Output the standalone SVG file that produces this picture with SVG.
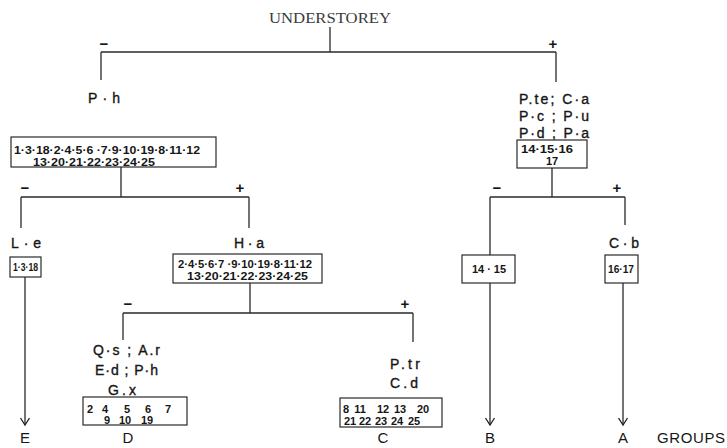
<svg xmlns="http://www.w3.org/2000/svg" width="727" height="448" viewBox="0 0 727 448">
<defs>
<marker id="arr" markerWidth="12" markerHeight="12" refX="10" refY="6" orient="auto" markerUnits="userSpaceOnUse">
<path d="M3,1.5 L10,6 L3,10.5" fill="none" stroke="#222" stroke-width="1.3"/>
</marker>
<style>
.ln{stroke:#2a2a2a;stroke-width:1.3;fill:none}
.bx{stroke:#2a2a2a;stroke-width:1.2;fill:#fff}
.lb{font-family:"Liberation Sans",Arial,sans-serif;font-size:14px;fill:#161616;stroke:#161616;stroke-width:0.35}
.nm{font-family:"Liberation Sans",Arial,sans-serif;font-size:11px;font-weight:bold;fill:#161616}
.sg{font-family:"Liberation Sans",Arial,sans-serif;font-size:15px;font-weight:bold;fill:#161616}
.gp{font-family:"Liberation Sans",Arial,sans-serif;font-size:15px;fill:#161616}
.tt{font-family:"Liberation Serif","Times New Roman",serif;font-size:14px;fill:#3a3a3a}
</style>
</defs>
<g id="connectors">
<path class="ln" d="M330,27 V52 M101,52 H556 M101,52 V80 M556,52 V82"/>
<path class="ln" d="M121,167 V197 M21,197 H249 M21,197 V228 M249,197 V228"/>
<path class="ln" d="M552,168 V197 M490,197 H625 M625,197 V225 M490,197 V255"/>
<path class="ln" d="M250,283 V313 M123,313 H413 M123,313 V340 M413,313 V342"/>
<path class="ln" d="M25,277 V425" marker-end="url(#arr)"/>
<path class="ln" d="M490,283 V425" marker-end="url(#arr)"/>
<path class="ln" d="M623,283 V425" marker-end="url(#arr)"/>
</g>
<g id="signs">
<text class="sg" x="104" y="49" text-anchor="middle">−</text>
<text class="sg" x="553" y="49" text-anchor="middle">+</text>
<text class="sg" x="25" y="193" text-anchor="middle">−</text>
<text class="sg" x="240" y="193" text-anchor="middle">+</text>
<text class="sg" x="497" y="193" text-anchor="middle">−</text>
<text class="sg" x="617" y="193" text-anchor="middle">+</text>
<text class="sg" x="128" y="309" text-anchor="middle">−</text>
<text class="sg" x="405" y="309" text-anchor="middle">+</text>
</g>
<g id="root">
<text class="tt" x="330" y="23" text-anchor="middle" textLength="122" lengthAdjust="spacingAndGlyphs">UNDERSTOREY</text>
</g>
<g id="node-ph">
<text class="lb" x="88" y="103" textLength="32" lengthAdjust="spacing">P·h</text>
</g>
<g id="node-left-box">
<rect class="bx" x="11" y="137" width="205" height="30"/>
<text class="nm" x="14" y="154" textLength="186" lengthAdjust="spacingAndGlyphs">1·3·18·2·4·5·6 ·7·9·10·19·8·11·12</text>
<text class="nm" x="33" y="166" textLength="122" lengthAdjust="spacingAndGlyphs">13·20·21·22·23·24·25</text>
</g>
<g id="node-right">
<text class="lb" x="519" y="104" textLength="70" lengthAdjust="spacing">P.te; C·a</text>
<text class="lb" x="519" y="121" textLength="70" lengthAdjust="spacing">P·c ; P·u</text>
<text class="lb" x="519" y="138" textLength="70" lengthAdjust="spacing">P·d ; P·a</text>
<rect class="bx" x="517" y="140" width="70" height="28"/>
<text class="nm" x="521" y="153" textLength="52" lengthAdjust="spacingAndGlyphs">14·15·16</text>
<text class="nm" x="552" y="165" text-anchor="middle">17</text>
</g>
<g id="node-le">
<text class="lb" x="11" y="248" textLength="30" lengthAdjust="spacing">L·e</text>
<rect class="bx" x="10" y="257" width="31" height="20"/>
<text class="nm" x="13" y="271" textLength="25" lengthAdjust="spacingAndGlyphs">1·3·18</text>
</g>
<g id="node-ha">
<text class="lb" x="249" y="248" text-anchor="middle" textLength="30" lengthAdjust="spacing">H·a</text>
<rect class="bx" x="173" y="254" width="149" height="29"/>
<text class="nm" x="178" y="268" textLength="134" lengthAdjust="spacingAndGlyphs">2·4·5·6·7 ·9·10·19·8·11·12</text>
<text class="nm" x="187" y="280" textLength="121" lengthAdjust="spacingAndGlyphs">13·20·21·22·23·24·25</text>
</g>
<g id="node-cb">
<text class="lb" x="624" y="248" text-anchor="middle" textLength="30" lengthAdjust="spacing">C·b</text>
<rect class="bx" x="605" y="255" width="33" height="28"/>
<text class="nm" x="621" y="273" text-anchor="middle" textLength="26" lengthAdjust="spacingAndGlyphs">16·17</text>
</g>
<g id="node-1415">
<rect class="bx" x="462" y="255" width="53" height="28"/>
<text class="nm" x="489" y="273" text-anchor="middle" textLength="34" lengthAdjust="spacing">14 · 15</text>
</g>
<g id="node-D">
<text class="lb" x="93" y="355" textLength="67" lengthAdjust="spacing">Q·s ; A.r</text>
<text class="lb" x="95" y="375" textLength="63" lengthAdjust="spacing">E·d ; P·h</text>
<text class="lb" x="108" y="395" textLength="28" lengthAdjust="spacing">G.x</text>
<rect class="bx" x="83" y="397" width="104" height="28"/>
<text class="nm" x="90" y="413" text-anchor="middle">2</text>
<text class="nm" x="105" y="413" text-anchor="middle">4</text>
<text class="nm" x="127" y="413" text-anchor="middle">5</text>
<text class="nm" x="148" y="413" text-anchor="middle">6</text>
<text class="nm" x="168" y="413" text-anchor="middle">7</text>
<text class="nm" x="107" y="424" text-anchor="middle">9</text>
<text class="nm" x="125" y="424" text-anchor="middle">10</text>
<text class="nm" x="147" y="424" text-anchor="middle">19</text>
</g>
<g id="node-C">
<text class="lb" x="390" y="369" textLength="30" lengthAdjust="spacing">P.tr</text>
<text class="lb" x="390" y="388" textLength="28" lengthAdjust="spacing">C.d</text>
<rect class="bx" x="340" y="398" width="102" height="29"/>
<text class="nm" x="346" y="413" text-anchor="middle">8</text>
<text class="nm" x="360" y="413" text-anchor="middle">11</text>
<text class="nm" x="383" y="413" text-anchor="middle">12</text>
<text class="nm" x="400" y="413" text-anchor="middle">13</text>
<text class="nm" x="423" y="413" text-anchor="middle">20</text>
<text class="nm" x="350" y="425" text-anchor="middle">21</text>
<text class="nm" x="365" y="425" text-anchor="middle">22</text>
<text class="nm" x="381" y="425" text-anchor="middle">23</text>
<text class="nm" x="397" y="425" text-anchor="middle">24</text>
<text class="nm" x="414" y="425" text-anchor="middle">25</text>
</g>
<g id="groups">
<text class="gp" x="25" y="443" text-anchor="middle">E</text>
<text class="gp" x="128" y="443" text-anchor="middle">D</text>
<text class="gp" x="383" y="443" text-anchor="middle">C</text>
<text class="gp" x="490" y="443" text-anchor="middle">B</text>
<text class="gp" x="623" y="443" text-anchor="middle">A</text>
<text class="gp" x="657" y="443" textLength="68" lengthAdjust="spacing">GROUPS</text>
</g>
</svg>
